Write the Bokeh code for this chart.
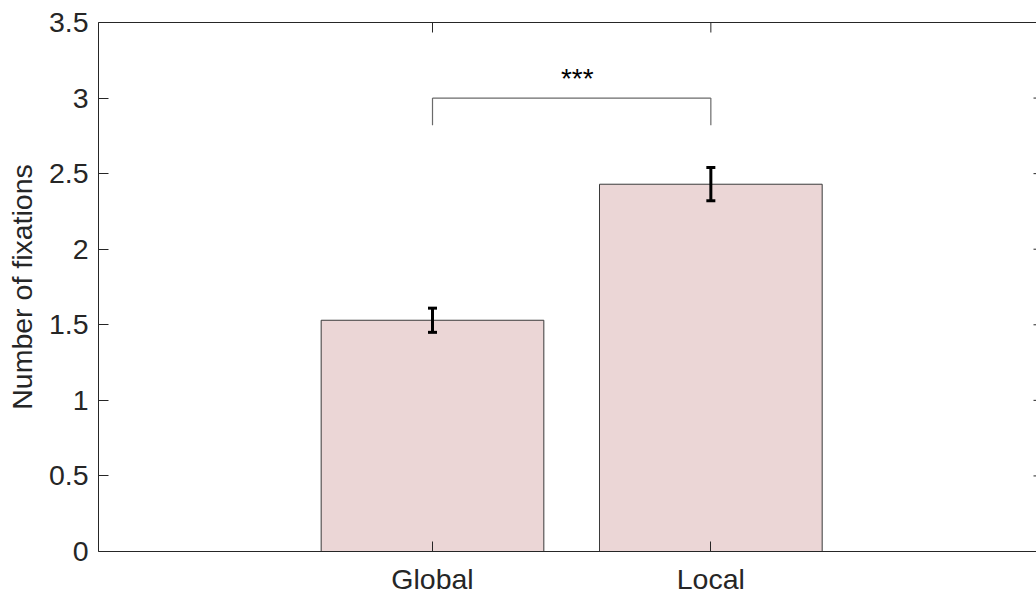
import math
from bokeh.plotting import figure
from bokeh.models import (LinearAxis, FixedTicker, CustomJSTickFormatter, Whisker,
                          ColumnDataSource, Range1d, TeeHead)
from bokeh.core.properties import value
from bokeh.embed import file_html
from bokeh.resources import INLINE

# ---- data ----
categories = ["Global", "Local"]
positions = [1, 2]
means = [1.53, 2.43]
sem = [0.08, 0.11]
y_ticks = [0, 0.5, 1, 1.5, 2, 2.5, 3, 3.5]
sig_label = "***"
bracket_y = 3.0
bracket_drop = 2.82
sig_text_y = 3.13

FONT = "Liberation Sans"
TXT = "#262626"
X_START, X_END = -0.2, 3.17
Y_END = 3.5

p = figure(width=1036, height=597, output_backend="svg", toolbar_location=None,
           x_range=Range1d(X_START, X_END), y_range=Range1d(0, Y_END),
           min_border_left=98, min_border_right=0, min_border_top=22, min_border_bottom=46)
p.outline_line_color = None
p.xgrid.visible = False
p.ygrid.visible = False
p.background_fill_color = "white"
p.border_fill_color = "white"

src = ColumnDataSource(dict(x=positions, top=means,
                            upper=[m + s for m, s in zip(means, sem)],
                            lower=[m - s for m, s in zip(means, sem)]))

p.vbar(x="x", top="top", width=0.8, source=src, fill_color="#EBD6D6",
       line_color="#3a3a3a", line_width=1)

w = Whisker(base="x", upper="upper", lower="lower", source=src, level="overlay",
            line_color="black", line_width=3,
            upper_head=TeeHead(size=9, line_width=3, line_color="black"),
            lower_head=TeeHead(size=9, line_width=3, line_color="black"))
p.add_layout(w)

# significance bracket
p.segment(x0=[positions[0], positions[0], positions[1]],
          y0=[bracket_y, bracket_y, bracket_y],
          x1=[positions[1], positions[0], positions[1]],
          y1=[bracket_y, bracket_drop, bracket_drop],
          line_color="#6a6a6a", line_width=1.2)
p.text(x=[(positions[0] + positions[1]) / 2 + 0.02], y=[sig_text_y], text=[sig_label],
       text_align="center", text_baseline="alphabetic",
       text_font=value(FONT), text_font_size="28px", text_color="black")

xfmt = CustomJSTickFormatter(args=dict(labels=categories, pos=positions), code="""
    const i = pos.indexOf(tick);
    return i >= 0 ? labels[i] : "";
""")
yfmt = CustomJSTickFormatter(code="return tick.toString();")

# bottom axis
xa = p.xaxis[0]
xa.ticker = FixedTicker(ticks=positions)
xa.formatter = xfmt
xa.major_tick_in = 10
xa.major_tick_out = 0
xa.minor_tick_in = 0
xa.minor_tick_out = 0
xa.major_label_standoff = 11
xa.major_label_text_font = FONT
xa.major_label_text_font_size = "28.5px"
xa.major_label_text_color = TXT
xa.axis_line_color = TXT
xa.major_tick_line_color = TXT

# left axis
ya = p.yaxis[0]
ya.ticker = FixedTicker(ticks=y_ticks)
ya.formatter = yfmt
ya.major_tick_in = 10
ya.major_tick_out = 0
ya.minor_tick_in = 0
ya.minor_tick_out = 0
ya.major_label_standoff = 10
ya.major_label_text_font = FONT
ya.major_label_text_font_size = "28.5px"
ya.major_label_text_color = TXT
ya.axis_line_color = TXT
ya.major_tick_line_color = TXT
ya.axis_label = "Number of fixations"
ya.axis_label_text_font = FONT
ya.axis_label_text_font_size = "28.5px"
ya.axis_label_text_font_style = "normal"
ya.axis_label_text_color = TXT
ya.axis_label_standoff = 8

# top box line (axis line only)
ta = LinearAxis(ticker=FixedTicker(ticks=[]), major_tick_in=0, major_tick_out=0,
                minor_tick_in=0, minor_tick_out=0,
                axis_line_color=TXT)
p.add_layout(ta, "above")

# inward ticks on the top edge and on the (clipped) right edge
p.ray(x=positions, y=[Y_END] * len(positions), length=10, length_units="screen",
      angle=-math.pi / 2, line_color=TXT, line_width=1)
p.ray(x=[X_END] * len(y_ticks), y=y_ticks, length=3, length_units="screen",
      angle=math.pi, line_color=TXT, line_width=1)

open("out.html", "w").write(file_html(p, INLINE))
